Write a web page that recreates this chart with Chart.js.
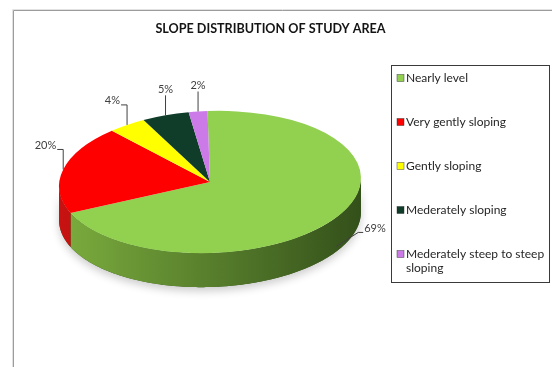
<!DOCTYPE html>
<html>
<head>
<meta charset="utf-8">
<script src="https://cdn.jsdelivr.net/npm/chart.js@4.4.1/dist/chart.umd.min.js"></script>
<style>
  html, body { margin: 0; padding: 0; background: #fff; overflow: hidden; }
  canvas { display: block; }
</style>
</head>
<body>
<canvas id="c" width="552" height="367"></canvas>
<script>
// Slope classes and their share of the study area (%)
const categories = ['Nearly level', 'Very gently sloping', 'Gently sloping', 'Mederately sloping', 'Mederately steep to steep sloping'];
const shares = [69, 20, 4, 5, 2];
const chartTitle = 'SLOPE DISTRIBUTION OF STUDY AREA';

// Face colours, plus light/dark shades for the rim of the disc
const topColors = ['#92d050', '#ff0000', '#ffff00', '#0f3d2a', '#cc7ae8'];
const sideLight = ['#7cad3e', '#c81212', '#d6d600', '#0b2e20', '#a85cc4'];
const sideDark  = ['#33501a', '#780000', '#8a8a00', '#061a12', '#6a3580'];

// Projected disc: centre, radii, tilt and rim thickness
const DISC = { cx: 210, cy: 182, rx: 151, ry: 71, tilt: -2 * Math.PI / 180, depth: 34 };
const FONT = 'Lato, "Open Sans", sans-serif';

function project(theta, dy) {
  const ex = DISC.rx * Math.cos(theta), ey = DISC.ry * Math.sin(theta);
  const c = Math.cos(DISC.tilt), s = Math.sin(DISC.tilt);
  return { x: DISC.cx + ex * c - ey * s, y: DISC.cy + ex * s + ey * c + (dy || 0) };
}

function rimPath(ctx, lo, hi) {
  const steps = Math.max(2, Math.ceil((hi - lo) * 60));
  ctx.beginPath();
  for (let j = 0; j <= steps; j++) {
    const p = project(lo + (hi - lo) * j / steps, 0);
    j ? ctx.lineTo(p.x, p.y) : ctx.moveTo(p.x, p.y);
  }
  for (let j = steps; j >= 0; j--) {
    const p = project(lo + (hi - lo) * j / steps, DISC.depth);
    ctx.lineTo(p.x, p.y);
  }
  ctx.closePath();
}

const disc3d = {
  id: 'disc3d',
  beforeDraw(chart) {
    const ctx = chart.ctx;
    ctx.save();
    ctx.fillStyle = '#fff';
    ctx.fillRect(0, 0, chart.width, chart.height);
    // chart frame (runs off the right and bottom edges)
    ctx.strokeStyle = '#e2e2e2';
    ctx.lineWidth = 1;
    ctx.beginPath();
    ctx.moveTo(12.5, chart.height); ctx.lineTo(12.5, 9.5); ctx.lineTo(chart.width, 9.5);
    ctx.stroke();
    ctx.strokeStyle = '#9c9c9c';
    ctx.beginPath();
    ctx.moveTo(13.5, chart.height); ctx.lineTo(13.5, 10.5); ctx.lineTo(chart.width, 10.5);
    ctx.stroke();
    // title
    ctx.fillStyle = '#141414';
    ctx.font = 'bold 12.6px ' + FONT;
    ctx.textAlign = 'center';
    ctx.textBaseline = 'middle';
    ctx.fillText(chartTitle, 270.5, 28.5);
    ctx.restore();
  },
  beforeDatasetsDraw(chart) {
    const ctx = chart.ctx;
    const arcs = chart.getDatasetMeta(0).data;
    const t0 = Math.atan2(-DISC.ry * Math.sin(DISC.tilt), DISC.rx * Math.cos(DISC.tilt));

    // soft shadow under the disc
    ctx.save();
    ctx.shadowColor = 'rgba(0,0,0,0.2)';
    ctx.shadowBlur = 9;
    ctx.shadowOffsetY = 4;
    rimPath(ctx, t0, t0 + Math.PI);
    ctx.fillStyle = sideDark[0];
    ctx.fill();
    ctx.restore();

    // rim of every slice facing the viewer
    ctx.save();
    const x0 = DISC.cx - DISC.rx, x1 = DISC.cx + DISC.rx;
    arcs.forEach((arc, i) => {
      for (let k = -1; k <= 1; k++) {
        const lo = Math.max(arc.startAngle, t0 + 2 * Math.PI * k);
        const hi = Math.min(arc.endAngle, t0 + Math.PI + 2 * Math.PI * k);
        if (hi <= lo) continue;
        rimPath(ctx, lo, hi);
        const g = ctx.createLinearGradient(x0, 0, x1, 0);
        g.addColorStop(0, sideLight[i]);
        g.addColorStop(1, sideDark[i]);
        ctx.fillStyle = g;
        ctx.fill();
      }
    });
    ctx.restore();

    // lay the circular pie onto the tilted ellipse
    const a = arcs[0];
    ctx.save();
    ctx.translate(DISC.cx, DISC.cy);
    ctx.rotate(DISC.tilt);
    ctx.scale(DISC.rx / a.outerRadius, DISC.ry / a.outerRadius);
    ctx.translate(-a.x, -a.y);
  },
  afterDatasetsDraw(chart) {
    const ctx = chart.ctx;
    ctx.restore();

    // percentage labels with leader lines
    const arcs = chart.getDatasetMeta(0).data;
    const values = chart.data.datasets[0].data;
    ctx.save();
    ctx.strokeStyle = '#404040';
    ctx.fillStyle = '#404040';
    ctx.lineWidth = 1;
    ctx.font = '11px ' + FONT;
    ctx.textBaseline = 'middle';
    arcs.forEach((arc, i) => {
      const mid = (arc.startAngle + arc.endAngle) / 2;
      const cs = Math.cos(mid), sn = Math.sin(mid);
      const side = cs >= 0 ? 1 : -1;
      const text = values[i] + '%';
      let start, elbow, tail;
      if (sn > 0.2) {
        start = project(mid, DISC.depth * 0.85);
        elbow = { x: start.x + 22 * side, y: start.y - 14 };
        tail = { x: elbow.x + 5 * side, y: elbow.y };
      } else {
        start = project(mid, 0);
        elbow = { x: start.x, y: start.y - 20 };
        tail = Math.abs(cs) > 0.35 ? { x: elbow.x + 6 * side, y: elbow.y } : elbow;
      }
      ctx.beginPath();
      ctx.moveTo(start.x, start.y);
      ctx.lineTo(elbow.x, elbow.y);
      ctx.lineTo(tail.x, tail.y);
      ctx.stroke();
      if (tail === elbow) {
        ctx.textAlign = 'center';
        ctx.fillText(text, elbow.x, elbow.y - 6);
      } else {
        ctx.textAlign = side > 0 ? 'left' : 'right';
        ctx.fillText(text, tail.x + 1 * side, tail.y - 4);
      }
    });
    ctx.restore();
  },
  afterDraw(chart) {
    // boxed legend on the right
    const ctx = chart.ctx;
    const box = { x: 391.5, y: 65.5, w: 158, h: 217 };
    ctx.save();
    ctx.strokeStyle = '#3a3a3a';
    ctx.lineWidth = 1;
    ctx.strokeRect(box.x, box.y, box.w, box.h);
    ctx.font = '12px ' + FONT;
    ctx.textAlign = 'left';
    ctx.textBaseline = 'middle';
    const textX = 406, maxW = box.x + box.w - textX - 2;
    const colors = chart.data.datasets[0].backgroundColor;
    chart.data.labels.forEach((label, i) => {
      const y = 78 + i * 44;
      ctx.fillStyle = colors[i];
      ctx.fillRect(397, y - 3.5, 7, 7);
      ctx.strokeStyle = 'rgba(40,40,40,0.7)';
      ctx.lineWidth = 0.6;
      ctx.strokeRect(397, y - 3.5, 7, 7);
      // wrap long labels inside the box
      const words = label.split(' ');
      const lines = [];
      let line = '';
      words.forEach(w => {
        const trial = line ? line + ' ' + w : w;
        if (ctx.measureText(trial).width > maxW && line) { lines.push(line); line = w; }
        else line = trial;
      });
      lines.push(line);
      ctx.fillStyle = '#262626';
      lines.forEach((ln, j) => ctx.fillText(ln, textX, y + j * 14.5));
    });
    ctx.restore();
  }
};

new Chart(document.getElementById('c'), {
  type: 'pie',
  data: {
    labels: categories,
    datasets: [{
      data: shares,
      backgroundColor: topColors,
      borderWidth: 0,
      clip: false
    }]
  },
  options: {
    responsive: false,
    animation: false,
    events: [],
    rotation: 0,
    layout: { padding: 20 },
    plugins: {
      legend: { display: false },
      tooltip: { enabled: false },
      title: { display: false }
    }
  },
  plugins: [disc3d]
});
</script>
</body>
</html>
